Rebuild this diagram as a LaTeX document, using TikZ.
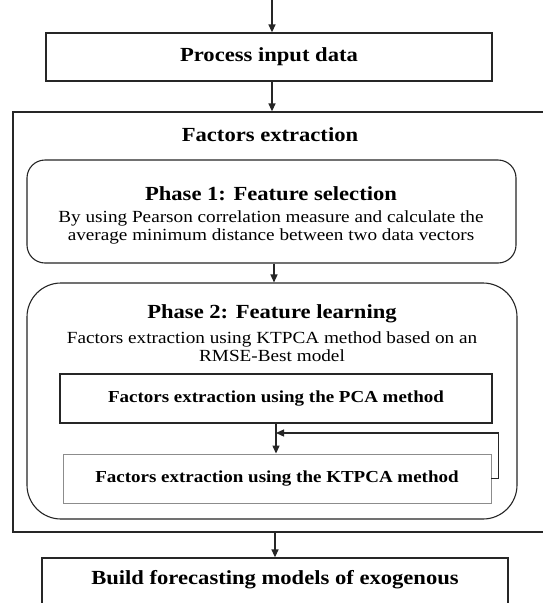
\documentclass[tikz,border=0pt]{standalone}
\usepackage{fontspec}
\setmainfont{Liberation Serif}[FakeStretch=1.13]
\usetikzlibrary{arrows.meta}
\begin{document}
\begin{tikzpicture}[x=1pt,y=-1pt,
  line/.style={draw=black!85, line width=1.3pt},
  arr/.style={line, -{Triangle[length=8pt,width=7pt]}},
  box/.style={line, rectangle, inner sep=0pt},
  rbox/.style={draw=black!85, line width=1.1pt, rectangle, inner sep=0pt},
  ttl/.style={font=\fontsize{20}{22}\selectfont\bfseries, inner sep=0pt},
  sttl/.style={font=\fontsize{16.8}{18}\selectfont\bfseries, inner sep=0pt},
  body/.style={font=\fontsize{17}{18}\selectfont, align=center, inner sep=0pt},
]
\clip (0,0) rectangle (543,603);
\fill[white] (0,0) rectangle (543,603);
\coordinate (start) at (272,-2);
% boxes
\node[box, minimum width=446pt, minimum height=48pt] (proc) at (269,57) {};
\node[ttl] (proclbl) at (269,57) {Process input data};
\node[box, minimum width=562pt, minimum height=420pt] (outer) at (294,322) {};
\node[ttl] (outerlbl) at (270,135) {Factors extraction};
\node[rbox, rounded corners=18pt, minimum width=489pt, minimum height=103pt] (ph1) at (271.5,211.5) {};
\node[ttl] (ph1t) at (271,194) {Phase 1: Feature selection};
\node[body] (ph1b) at (271,227) {By using Pearson correlation measure and calculate the\\average minimum distance between two data vectors};
\node[rbox, rounded corners=34pt, minimum width=490pt, minimum height=236pt] (ph2) at (272,401) {};
\node[ttl] (ph2t) at (272,314) {Phase 2: Feature learning};
\node[body] (ph2b) at (272,347) {Factors extraction using KTPCA method based on an\\RMSE-Best model};
\node[box, minimum width=432pt, minimum height=49pt, sttl] (pca) at (276,398.5) {Factors extraction using the PCA method};
\node[draw=black!45, line width=0.9pt, rectangle, inner sep=0pt, minimum width=428pt, minimum height=49pt, sttl] (kt) at (277,478.5) {Factors extraction using the KTPCA method};
\node[box, minimum width=466pt, minimum height=72pt] (build) at (275,594) {};
\node[ttl] (buildlbl) at (275,580) {Build forecasting models of exogenous};
% connectors
\coordinate (fb) at (276,433);
\draw[arr] (start) -- (start |- proc.north);
\draw[arr] (start |- proc.south) -- (start |- outer.north);
\draw[arr] ([xshift=2.5pt]ph1.south) -- ([xshift=2.5pt]ph1.south |- ph2.north);
\draw[arr] (pca.south) -- (pca.south |- kt.north);
\draw[arr] (kt.east) -- ++(7pt,0) |- (fb);
\draw[arr] (build.north |- outer.south) -- (build.north);
\end{tikzpicture}
\end{document}
